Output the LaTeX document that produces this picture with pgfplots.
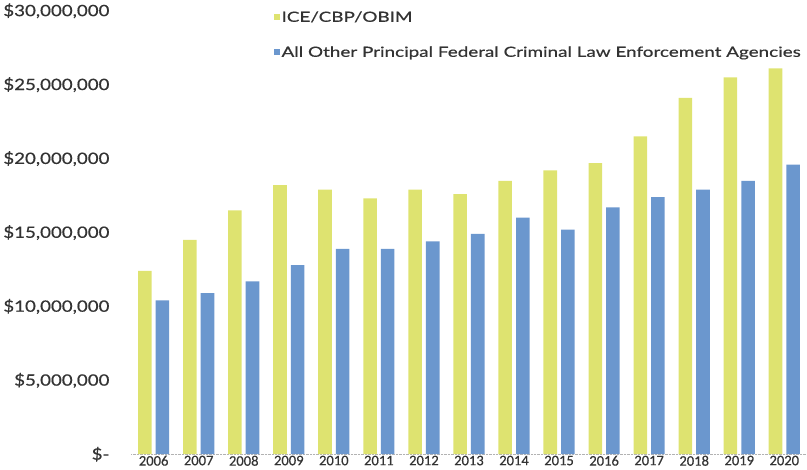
\documentclass[border=0pt]{standalone}
\usepackage{fontspec}
\setmainfont{Lato}
\newfontfamily\ylab{Lato}[FakeStretch=1.2, FakeBold=0.6]
\newfontfamily\legfont{Lato}[FakeStretch=1.34, FakeBold=0.6]
\newfontfamily\xlab{Carlito}[FakeBold=0.5]
\usepackage{pgfplots}
\pgfplotsset{compat=1.18}
\definecolor{iceyellow}{RGB}{222,227,112}
\definecolor{otherblue}{RGB}{107,151,206}

\begin{document}
\begin{tikzpicture}
\begin{axis}[
    scale only axis,
    width=672pt, height=441pt,
    ybar=4pt, bar width=13.5pt,
    xmin=-0.5, xmax=14.5,
    ymin=0, ymax=30000000,
    xtick={0,...,14},
    xticklabels={2006,2007,2008,2009,2010,2011,2012,2013,2014,2015,2016,2017,2018,2019,2020},
    ytick={0,5000000,10000000,15000000,20000000,25000000,30000000},
    yticklabels={\$-,{\$5,000,000},{\$10,000,000},{\$15,000,000},{\$20,000,000},{\$25,000,000},{\$30,000,000}},
    scaled y ticks=false,
    major tick length=0pt,
    axis x line*=bottom, axis y line*=left,
    x axis line style={gray!60, densely dotted, -},
    y axis line style={draw=none},
    xticklabel style={font=\xlab\fontsize{14.5}{16}\selectfont, yshift=2pt, text=black!80},
    yticklabel style={font=\ylab\fontsize{15.5}{18}\selectfont, xshift=-18pt, text=black!80},
    legend style={draw=none, fill=none, at={(0.206,1.008)}, anchor=north west,
        font=\legfont\fontsize{14}{16}\selectfont, row sep=19pt, text=black!80,
        /tikz/every even column/.append style={column sep=0pt}},
    legend cell align=left,
    legend image code/.code={\fill[#1] (0pt,-3pt) rectangle (6pt,3pt);},
]
\addplot[fill=iceyellow, draw=none] coordinates {
    (0,12400000) (1,14500000) (2,16500000) (3,18200000) (4,17900000)
    (5,17300000) (6,17900000) (7,17600000) (8,18500000) (9,19200000)
    (10,19700000) (11,21500000) (12,24100000) (13,25500000) (14,26100000)
};
\addlegendentry{ICE/CBP/OBIM}
\addplot[fill=otherblue, draw=none] coordinates {
    (0,10400000) (1,10900000) (2,11700000) (3,12800000) (4,13900000)
    (5,13900000) (6,14400000) (7,14900000) (8,16000000) (9,15200000)
    (10,16700000) (11,17400000) (12,17900000) (13,18500000) (14,19600000)
};
\addlegendentry{All Other Principal Federal Criminal Law Enforcement Agencies}
\end{axis}
\end{tikzpicture}
\end{document}
